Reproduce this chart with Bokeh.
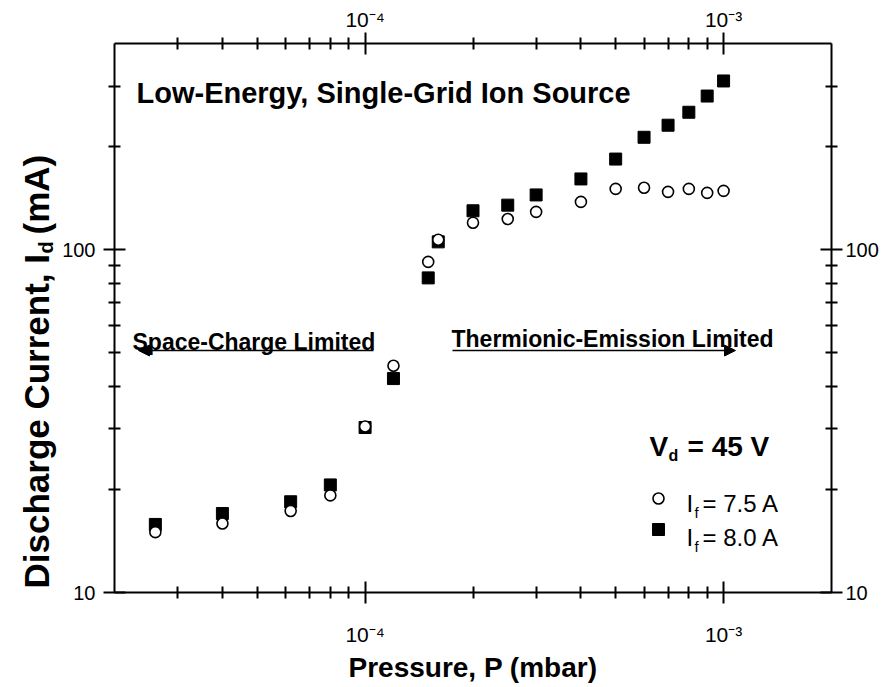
from bokeh.plotting import figure
from bokeh.models import (Range1d, LogAxis, FixedTicker, Label, Arrow, NormalHead, Title,
                          ColumnDataSource, CustomJSTickFormatter, LinearScale)
from bokeh.embed import file_html
from bokeh.resources import INLINE

# ---------------- data ----------------
pressure = [2.6e-5, 4.0e-5, 6.2e-5, 8.0e-5, 1.0e-4, 1.2e-4, 1.5e-4, 1.6e-4, 2.0e-4,
            2.5e-4, 3.0e-4, 4.0e-4, 5.0e-4, 6.0e-4, 7.0e-4, 8.0e-4, 9.0e-4, 1.0e-3]
current_if75 = [15.0, 15.9, 17.3, 19.2, 30.5, 45.9, 92.2, 107.0, 120.0,
                123.0, 129.0, 138.0, 150.6, 151.7, 147.6, 150.6, 146.6, 148.6]
current_if80 = [15.8, 17.0, 18.4, 20.6, 30.3, 42.1, 82.8, 105.5, 130.0,
                135.0, 144.6, 161.0, 184.0, 213.0, 231.0, 252.0, 281.0, 311.0]

x_limits = [2e-5, 2e-3]
y_limits = [10, 400]
x_major = [1e-4, 1e-3]
x_minor = [3e-5, 4e-5, 5e-5, 6e-5, 7e-5, 8e-5, 9e-5,
           2e-4, 3e-4, 4e-4, 5e-4, 6e-4, 7e-4, 8e-4, 9e-4]
y_major = [10, 100]
y_minor = [20, 30, 40, 50, 60, 70, 80, 90, 200, 300]
x_tick_labels = ["10\u207b\u2074", "10\u207b\u00b3"]
y_tick_labels = ["10", "100"]

FONT = "Liberation Sans"

# ---------------- layout (pixels) ----------------
W, H = 881, 687
L, R, T, B = 114, 831, 43, 592

p = figure(width=W, height=H, x_axis_type="log", y_axis_type="log",
           x_range=Range1d(*x_limits), y_range=Range1d(*y_limits),
           output_backend="svg", toolbar_location=None,
           min_border_left=L, min_border_right=W - R,
           min_border_top=T, min_border_bottom=H - B)
p.outline_line_color = None
p.grid.visible = False
p.background_fill_color = "white"
p.border_fill_color = "white"

# linear pixel coordinate system for annotation placement inside the frame
p.extra_x_ranges = {"px": Range1d(L, R)}
p.extra_y_ranges = {"px": Range1d(B, T)}
p.extra_x_scales = {"px": LinearScale()}
p.extra_y_scales = {"px": LinearScale()}

top_axis = LogAxis()
right_axis = LogAxis()
p.add_layout(top_axis, "above")
p.add_layout(right_axis, "right")
bottom_axis = p.below[0]
left_axis = p.left[0]

pick_js = """
let best = 0, dist = Infinity;
for (let i = 0; i < tvals.length; i++) {
  const d = Math.abs(Math.log10(tick) - Math.log10(tvals[i]));
  if (d < dist) { dist = d; best = i; }
}
return tlabels[best];
"""
xfmt = CustomJSTickFormatter(args=dict(tvals=x_major, tlabels=x_tick_labels), code=pick_js)
yfmt = CustomJSTickFormatter(args=dict(tvals=y_major, tlabels=y_tick_labels), code=pick_js)

for ax in (top_axis, bottom_axis):
    ax.ticker = FixedTicker(ticks=x_major, minor_ticks=x_minor)
    ax.formatter = xfmt
for ax in (left_axis, right_axis):
    ax.ticker = FixedTicker(ticks=y_major, minor_ticks=y_minor)
    ax.formatter = yfmt

for ax in (top_axis, bottom_axis, left_axis, right_axis):
    ax.axis_label = None
    ax.axis_line_width = 2
    ax.axis_line_color = "black"
    ax.major_tick_in = 11
    ax.major_tick_out = 11
    ax.minor_tick_in = 6
    ax.minor_tick_out = 6
    ax.major_tick_line_width = 2
    ax.minor_tick_line_width = 2
    ax.major_tick_line_color = "black"
    ax.minor_tick_line_color = "black"
    ax.major_label_text_font = FONT
    ax.major_label_text_font_size = "20px"
    ax.major_label_text_color = "black"

top_axis.major_label_text_font_size = "21px"
bottom_axis.major_label_text_font_size = "21px"

left_axis.major_label_standoff = 8
right_axis.major_label_standoff = 3
bottom_axis.major_label_standoff = 19
top_axis.major_label_standoff = 2

# bottom axis title
bottom_axis.axis_label = "Pressure, P (mbar)"
bottom_axis.axis_label_text_font = FONT
bottom_axis.axis_label_text_font_size = "28px"
bottom_axis.axis_label_text_font_style = "bold"
bottom_axis.axis_label_text_color = "black"
bottom_axis.axis_label_standoff = 3

# left axis title with a subscript: main text + separate "d"
NB = "\u00a0"
t_main = Title(text="Discharge Current, I" + NB + NB + "(mA)", align="left", offset=4,
               vertical_align="bottom", standoff=7, text_font=FONT,
               text_font_size="35px", text_font_style="bold", text_color="black")
t_sub = Title(text="d", align="left", offset=339, vertical_align="bottom", standoff=-91,
              text_font=FONT, text_font_size="20px", text_font_style="bold",
              text_color="black")
p.add_layout(t_main, "left")
p.add_layout(t_sub, "left")

# ---------------- data series ----------------
src75 = ColumnDataSource(dict(x=pressure, y=current_if75))
src80 = ColumnDataSource(dict(x=pressure, y=current_if80))
p.scatter("x", "y", source=src80, marker="square", size=12,
          fill_color="black", line_color="black", line_width=1)
p.scatter("x", "y", source=src75, marker="circle", size=11,
          fill_color="white", line_color="black", line_width=1.6)


def label(x, y, text, size, bold=False, align="left", baseline="alphabetic"):
    lab = Label(x=x, y=y, text=text, text_font=FONT, text_font_size=f"{size}px",
                text_font_style="bold" if bold else "normal", text_color="black",
                text_align=align, text_baseline=baseline,
                x_range_name="px", y_range_name="px")
    p.add_layout(lab)
    return lab


# in-plot annotations
label(136, 92, "Low-Energy, Single-Grid Ion Source", 29, bold=True)
label(132, 341, "Space-Charge Limited", 23, bold=True)
label(451, 338, "Thermionic-Emission Limited", 23, bold=True)

p.add_layout(Arrow(x_start=373, y_start=350, x_end=138, y_end=350,
                   x_range_name="px", y_range_name="px", line_width=1.5,
                   end=NormalHead(size=11, fill_color="black", line_color="black")))
p.add_layout(Arrow(x_start=452, y_start=350, x_end=735, y_end=350,
                   x_range_name="px", y_range_name="px", line_width=1.5,
                   end=NormalHead(size=11, fill_color="black", line_color="black")))

label(649, 446, "V", 28, bold=True)
label(668, 455, "d", 16, bold=True)
label(687, 446, "= 45 V", 28, bold=True)

# legend (manual, to allow subscripts)
p.scatter(x=[658], y=[498], marker="circle", size=11, fill_color="white",
          line_color="black", line_width=1.6, x_range_name="px", y_range_name="px")
p.scatter(x=[658], y=[529], marker="square", size=12, fill_color="black",
          line_color="black", x_range_name="px", y_range_name="px")
for yb, txt in ((503, "= 7.5 A"), (537, "= 8.0 A")):
    label(686, yb, "I", 24)
    label(694, yb + 9, "f", 15)
    label(702, yb, txt, 24)

open("out.html", "w").write(file_html(p, INLINE))
